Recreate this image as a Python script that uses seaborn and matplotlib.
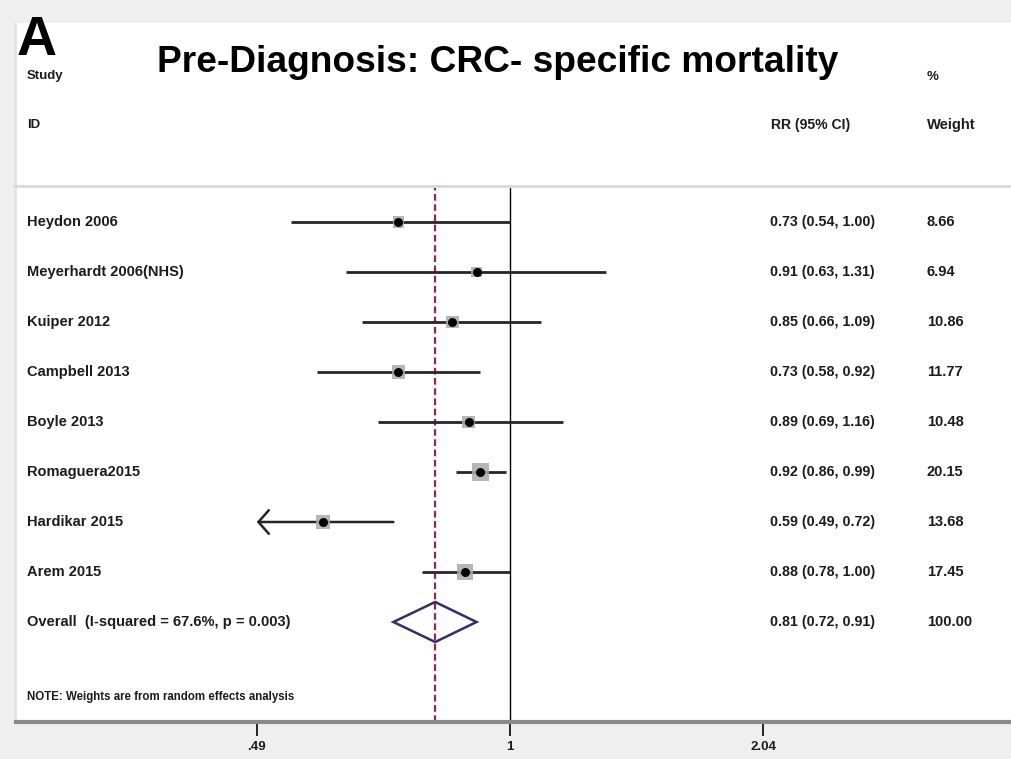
import numpy as np
import pandas as pd
import matplotlib
matplotlib.use("Agg")
import matplotlib.pyplot as plt
import seaborn as sns
from matplotlib.patches import Rectangle
from matplotlib.lines import Line2D
from matplotlib.ticker import NullLocator
from matplotlib.transforms import blended_transform_factory

# ---- data -------------------------------------------------------------
studies = ["Heydon 2006", "Meyerhardt 2006(NHS)", "Kuiper 2012", "Campbell 2013",
           "Boyle 2013", "Romaguera2015", "Hardikar 2015", "Arem 2015"]
rr = [0.73, 0.91, 0.85, 0.73, 0.89, 0.92, 0.59, 0.88]
ci_low = [0.54, 0.63, 0.66, 0.58, 0.69, 0.86, 0.49, 0.78]
ci_high = [1.00, 1.31, 1.09, 0.92, 1.16, 0.99, 0.72, 1.00]
weights = [8.66, 6.94, 10.86, 11.77, 10.48, 20.15, 13.68, 17.45]

overall_label = "Overall  (I-squared = 67.6%, p = 0.003)"
overall_rr, overall_low, overall_high = 0.81, 0.72, 0.91
overall_weight = 100.00

x_ticks = [0.49, 1, 2.04]
x_ticklabels = [".49", "1", "2.04"]

title = "Pre-Diagnosis: CRC- specific mortality"
panel_letter = "A"
note = "NOTE: Weights are from random effects analysis"

# ---- style ------------------------------------------------------------
sns.set_style("white")
plt.rcParams["font.family"] = ["Liberation Sans", "DejaVu Sans"]
TXT = "#1c1c1c"
FS = 10.5       # row labels and columns
FS_CI = 10.3    # RR (95% CI) column

W, H = 1012, 759
fig = plt.figure(figsize=(W / 100, H / 100), dpi=100, facecolor="#efefef")


def fx(px):
    return px / W


def fy(py):
    return 1 - py / H


# white panel behind the plot
fig.add_artist(Rectangle((fx(14), fy(722)), fx(1012) - fx(14), fy(23) - fy(722),
                         transform=fig.transFigure, facecolor="white",
                         edgecolor="none", zorder=-5))
fig.add_artist(Line2D([fx(15), fx(15)], [fy(722), fy(23)], transform=fig.transFigure,
                      color="#e2e2e2", lw=2, zorder=-4))
# header separator
fig.add_artist(Line2D([fx(14), fx(1012)], [fy(186), fy(186)], transform=fig.transFigure,
                      color="#d9d9d9", lw=2, zorder=-4))

# ---- forest plot axes -------------------------------------------------
ax = fig.add_axes([0, fy(722), 1, fy(188) - fy(722)])
ax.set_facecolor("none")
ax.set_xscale("log")
x_min, x_max = np.exp((0 - 510) / 355), np.exp((1012 - 510) / 355)
ax.set_xlim(x_min, x_max)
ax.set_ylim(10, -0.68)

rows = np.arange(len(studies))
df = pd.DataFrame({"study": studies, "rr": rr, "lo": ci_low, "hi": ci_high,
                   "w": weights, "row": rows})

# reference lines
ax.axvline(1, color="black", lw=1, zorder=1)
ax.axvline(overall_rr, color="#8c2a4c", lw=1.6, ls=(0, (3, 1.6)), zorder=1)

# confidence intervals (arrow when clipped at the axis minimum)
for _, r in df.iterrows():
    if r["lo"] <= x_ticks[0]:
        ax.annotate("", xy=(r["lo"], r["row"]), xytext=(r["hi"], r["row"]),
                    arrowprops=dict(arrowstyle="->,head_length=0.75,head_width=0.85",
                                    color="#262626", lw=1.8, shrinkA=0, shrinkB=0,
                                    mutation_scale=10), zorder=2)
    else:
        ax.hlines(r["row"], r["lo"], r["hi"], color="#262626", lw=2, zorder=2)

# weight squares (area proportional to weight)
k = 7.6
sns.scatterplot(data=df, x="rr", y="row", size="w", marker="s",
                sizes=(k * min(weights), k * max(weights)),
                size_norm=(min(weights), max(weights)),
                color="#a9a9a9", alpha=0.85, linewidth=0, legend=False, ax=ax, zorder=3)
# point estimates
sns.scatterplot(data=df, x="rr", y="row", color="black", s=42, linewidth=0,
                legend=False, ax=ax, zorder=4)

# pooled estimate diamond
o_row = len(studies)
ax.fill([overall_low, overall_rr, overall_high, overall_rr],
        [o_row, o_row - 0.4, o_row, o_row + 0.4],
        facecolor="none", edgecolor="#2f2f6c", lw=1.8, zorder=3)

# axis styling
for s in ["top", "left", "right"]:
    ax.spines[s].set_visible(False)
ax.spines["bottom"].set_color("#8a8a8a")
ax.spines["bottom"].set_linewidth(3)
ax.spines["bottom"].set_bounds(np.exp((16 - 510) / 355), x_max)
ax.set_xticks(x_ticks)
ax.set_xticklabels(x_ticklabels)
ax.xaxis.set_minor_locator(NullLocator())
ax.tick_params(axis="x", which="major", bottom=True, direction="out", length=10,
               width=1.2, color="black", pad=4, labelsize=9.5, labelcolor=TXT)
for lab in ax.get_xticklabels():
    lab.set_fontweight("bold")
ax.set_yticks([])
ax.set_xlabel("")
ax.set_ylabel("")

# ---- text columns -----------------------------------------------------
trans = blended_transform_factory(fig.transFigure, ax.transData)
for _, r in df.iterrows():
    ax.text(fx(27), r["row"], r["study"], transform=trans, ha="left", va="center",
            fontsize=FS, fontweight="bold", color=TXT, clip_on=False)
    ax.text(fx(770), r["row"], f"{r['rr']:.2f} ({r['lo']:.2f}, {r['hi']:.2f})",
            transform=trans, ha="left", va="center", fontsize=FS_CI, fontweight="bold",
            color=TXT, clip_on=False)
    ax.text(fx(927), r["row"], f"{r['w']:.2f}", transform=trans, ha="left",
            va="center", fontsize=FS, fontweight="bold", color=TXT, clip_on=False)

ax.text(fx(27), o_row, overall_label, transform=trans, ha="left", va="center",
        fontsize=FS, fontweight="bold", color=TXT, clip_on=False)
ax.text(fx(770), o_row, f"{overall_rr:.2f} ({overall_low:.2f}, {overall_high:.2f})",
        transform=trans, ha="left", va="center", fontsize=FS_CI, fontweight="bold",
        color=TXT, clip_on=False)
ax.text(fx(927), o_row, f"{overall_weight:.2f}", transform=trans, ha="left",
        va="center", fontsize=FS, fontweight="bold", color=TXT, clip_on=False)
ax.text(fx(27), 9.5, note, transform=trans, ha="left", va="center",
        fontsize=8.3, fontweight="bold", color=TXT, clip_on=False)

# headers
fig.text(fx(27), fy(76), "Study", ha="left", va="center", fontsize=9.5,
         fontweight="bold", color=TXT)
fig.text(fx(27), fy(125), "ID", ha="left", va="center", fontsize=9.5,
         fontweight="bold", color=TXT)
fig.text(fx(771), fy(125), "RR (95% CI)", ha="left", va="center", fontsize=10.1,
         fontweight="bold", color=TXT)
fig.text(fx(927), fy(77), "%", ha="left", va="center", fontsize=9.5,
         fontweight="bold", color=TXT)
fig.text(fx(927), fy(125), "Weight", ha="left", va="center", fontsize=10.6,
         fontweight="bold", color=TXT)

fig.text(fx(157), fy(72), title, ha="left", va="baseline", fontsize=26.7,
         fontweight="bold", color="black")
fig.text(fx(17), fy(55), panel_letter, ha="left", va="baseline", fontsize=40,
         fontweight="bold", color="black")

fig.savefig("out.png", dpi=100, facecolor=fig.get_facecolor())
